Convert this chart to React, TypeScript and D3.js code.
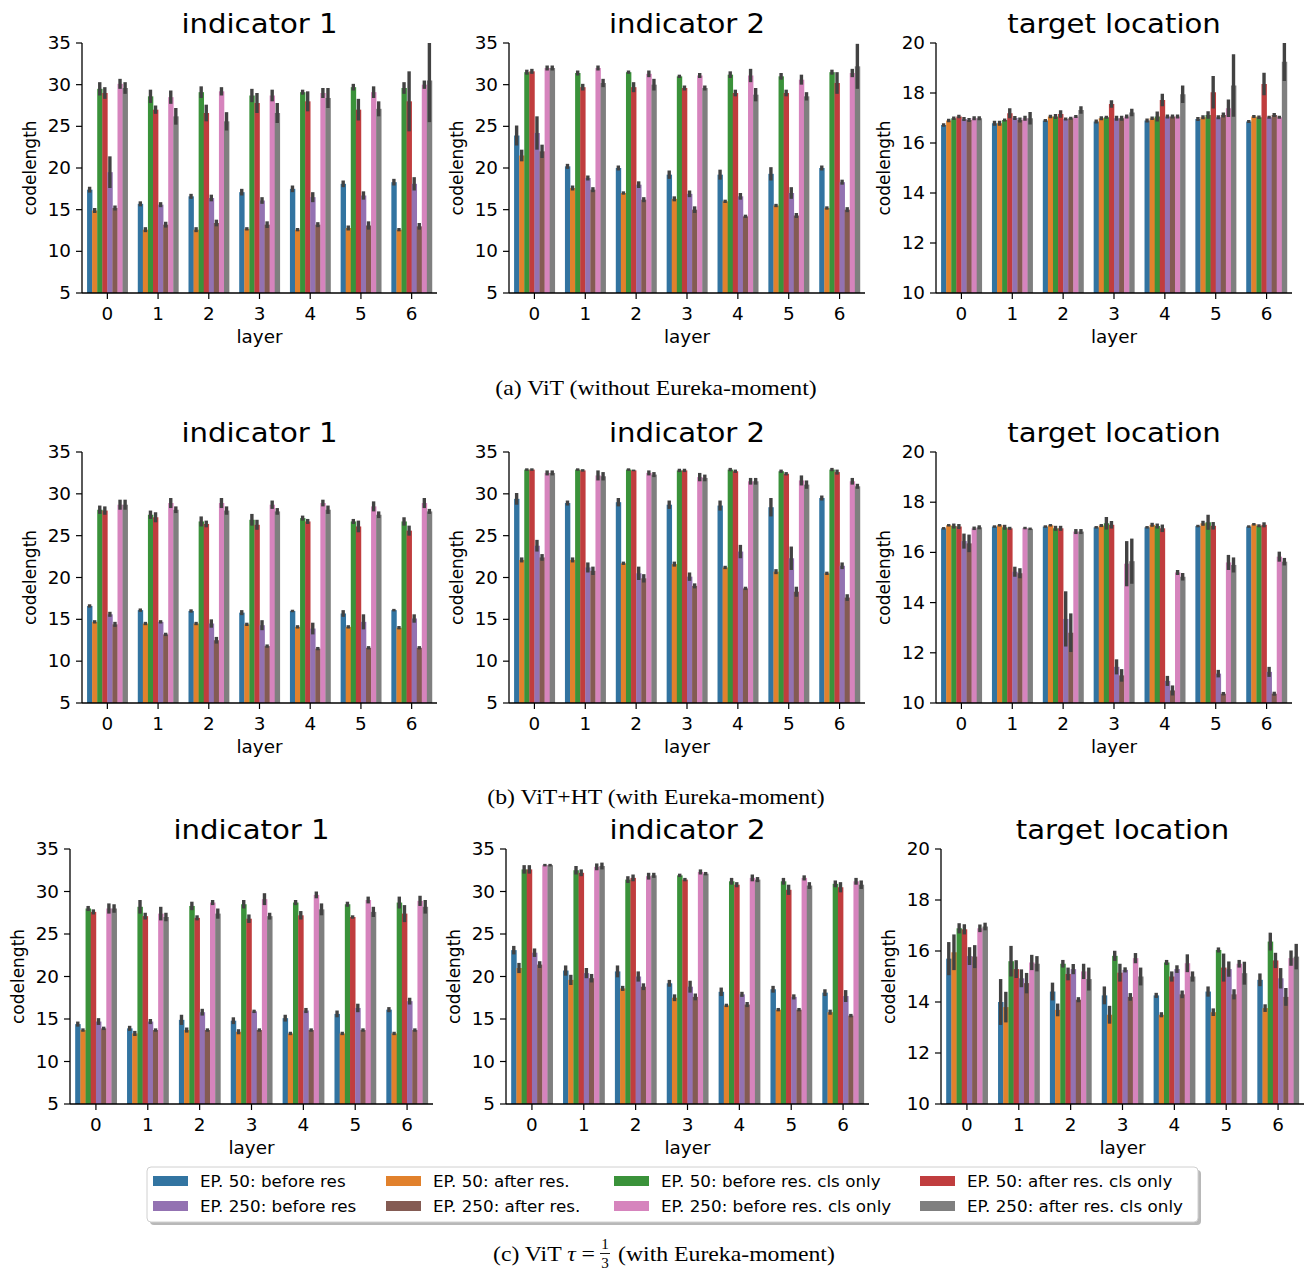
import * as d3 from 'd3'

const layers = ['0', '1', '2', '3', '4', '5', '6']
const seriesNames = [
  'EP. 50: before res',
  'EP. 50: after res.',
  'EP. 50: before res. cls only',
  'EP. 50: after res. cls only',
  'EP. 250: before res',
  'EP. 250: after res.',
  'EP. 250: before res. cls only',
  'EP. 250: after res. cls only',
]
const palette = ['#3274a1', '#e1812c', '#3a923a', '#c03d3e', '#9372b2', '#845b53', '#d684bd', '#7f7f7f']
const panelTitles = ['indicator 1', 'indicator 2', 'target location']
const captions = ['(a) ViT (without Eureka-moment)', '(b) ViT+HT (with Eureka-moment)']

// rows = layers, columns = series (same order as seriesNames)
// (a) ViT
const vitInd1Mean = [
  [17.4, 14.9, 29.5, 29.0, 19.5, 15.2, 30.1, 29.6],
  [15.7, 12.6, 28.6, 27.0, 15.6, 13.2, 28.5, 26.2],
  [16.6, 12.6, 29.1, 26.6, 16.4, 13.4, 29.2, 25.6],
  [17.1, 12.7, 28.7, 27.8, 16.1, 13.2, 28.7, 26.6],
  [17.5, 12.6, 29.1, 28.0, 16.5, 13.2, 29.0, 28.4],
  [18.1, 12.8, 29.7, 27.0, 16.7, 13.1, 29.1, 27.1],
  [18.3, 12.6, 29.6, 28.0, 18.1, 13.0, 30.0, 30.5],
]
const vitInd1Err = [
  [0.35, 0.3, 0.8, 0.7, 1.9, 0.3, 0.6, 0.7],
  [0.3, 0.3, 0.8, 0.5, 0.3, 0.35, 0.8, 1.0],
  [0.3, 0.3, 0.7, 1.0, 0.4, 0.4, 0.5, 1.1],
  [0.4, 0.2, 0.8, 1.2, 0.4, 0.4, 0.7, 1.2],
  [0.4, 0.2, 0.3, 1.2, 0.6, 0.3, 0.6, 1.2],
  [0.4, 0.3, 0.4, 1.3, 0.5, 0.5, 0.7, 0.9],
  [0.4, 0.2, 0.7, 3.6, 0.8, 0.4, 0.5, 5.0],
]
const vitInd2Mean = [
  [23.9, 21.5, 31.5, 31.6, 24.2, 22.0, 32.0, 32.0],
  [20.2, 17.6, 31.4, 29.7, 18.8, 17.4, 32.0, 30.2],
  [20.0, 17.0, 31.5, 29.7, 18.0, 16.2, 31.3, 30.0],
  [19.2, 16.3, 31.0, 29.6, 16.9, 15.0, 31.1, 29.6],
  [19.2, 16.0, 31.2, 29.0, 16.6, 14.2, 31.1, 28.8],
  [19.3, 15.5, 31.0, 29.0, 17.0, 14.3, 30.6, 28.6],
  [20.0, 15.2, 31.5, 30.2, 18.3, 15.0, 31.4, 32.2],
]
const vitInd2Err = [
  [1.2, 0.7, 0.3, 0.3, 2.0, 0.8, 0.3, 0.3],
  [0.3, 0.3, 0.3, 0.4, 0.3, 0.3, 0.3, 0.5],
  [0.3, 0.2, 0.2, 0.6, 0.4, 0.3, 0.4, 0.7],
  [0.5, 0.3, 0.2, 0.3, 0.4, 0.4, 0.3, 0.3],
  [0.6, 0.2, 0.4, 0.4, 0.4, 0.2, 0.8, 0.8],
  [0.8, 0.2, 0.4, 0.4, 0.7, 0.3, 0.6, 0.5],
  [0.3, 0.2, 0.3, 1.3, 0.3, 0.3, 0.5, 2.7],
]
const vitTargetMean = [
  [16.72, 16.9, 16.99, 17.06, 16.96, 16.92, 16.99, 16.99],
  [16.79, 16.79, 16.92, 17.19, 17.0, 16.92, 16.99, 16.99],
  [16.9, 17.06, 17.06, 17.16, 16.96, 16.99, 17.06, 17.32],
  [16.86, 16.99, 17.03, 17.56, 16.99, 16.99, 17.06, 17.22],
  [16.9, 16.99, 17.06, 17.72, 17.06, 17.06, 17.06, 17.95],
  [16.96, 17.03, 17.12, 18.03, 17.03, 17.12, 17.39, 18.3],
  [16.86, 17.06, 17.03, 18.36, 17.03, 17.12, 17.03, 19.25],
]
const vitTargetErr = [
  [0.07, 0.07, 0.07, 0.07, 0.08, 0.08, 0.08, 0.08],
  [0.1, 0.1, 0.06, 0.2, 0.08, 0.1, 0.1, 0.25],
  [0.06, 0.07, 0.1, 0.15, 0.06, 0.06, 0.06, 0.15],
  [0.08, 0.08, 0.06, 0.15, 0.1, 0.1, 0.08, 0.15],
  [0.08, 0.07, 0.2, 0.25, 0.08, 0.08, 0.08, 0.35],
  [0.08, 0.08, 0.15, 0.65, 0.08, 0.1, 0.35, 1.25],
  [0.06, 0.06, 0.07, 0.45, 0.06, 0.08, 0.06, 0.77],
]

// (b) ViT+HT
const htInd1Mean = [
  [16.6, 14.7, 28.1, 28.0, 15.6, 14.4, 28.7, 28.7],
  [16.1, 14.5, 27.5, 27.2, 14.7, 13.2, 28.9, 28.1],
  [16.0, 14.5, 26.7, 26.4, 14.5, 12.5, 28.9, 28.0],
  [15.8, 14.4, 26.9, 26.3, 14.3, 11.8, 28.7, 27.9],
  [16.0, 14.1, 27.1, 26.7, 13.9, 11.5, 28.9, 28.1],
  [15.7, 14.1, 26.7, 26.1, 14.7, 11.6, 28.5, 27.5],
  [16.1, 14.0, 26.7, 25.6, 15.1, 11.6, 28.9, 27.9],
]
const htInd1Err = [
  [0.2, 0.2, 0.5, 0.5, 0.3, 0.3, 0.6, 0.6],
  [0.2, 0.2, 0.5, 0.6, 0.2, 0.2, 0.6, 0.4],
  [0.2, 0.2, 0.6, 0.4, 0.5, 0.4, 0.6, 0.5],
  [0.3, 0.2, 0.7, 0.6, 0.6, 0.2, 0.5, 0.4],
  [0.15, 0.2, 0.3, 0.3, 0.7, 0.2, 0.4, 0.5],
  [0.4, 0.2, 0.3, 0.7, 0.9, 0.2, 0.6, 0.4],
  [0.15, 0.2, 0.5, 0.6, 0.5, 0.2, 0.6, 0.3],
]
const htInd2Mean = [
  [29.4, 22.1, 32.9, 32.9, 23.8, 22.4, 32.5, 32.5],
  [28.9, 22.1, 32.9, 32.8, 21.2, 20.8, 32.2, 32.1],
  [29.0, 21.7, 32.9, 32.8, 20.5, 19.9, 32.5, 32.3],
  [28.7, 21.6, 32.8, 32.8, 20.1, 19.0, 32.0, 31.9],
  [28.6, 21.2, 32.9, 32.7, 23.1, 18.7, 31.5, 31.5],
  [28.4, 20.7, 32.7, 32.4, 22.3, 18.3, 31.6, 31.1],
  [29.5, 20.5, 32.9, 32.6, 21.4, 17.6, 31.5, 30.9],
]
const htInd2Err = [
  [0.7, 0.3, 0.15, 0.15, 0.7, 0.4, 0.3, 0.3],
  [0.3, 0.3, 0.15, 0.15, 0.6, 0.5, 0.6, 0.5],
  [0.5, 0.2, 0.15, 0.1, 0.8, 0.5, 0.3, 0.3],
  [0.5, 0.3, 0.2, 0.2, 0.5, 0.3, 0.5, 0.4],
  [0.6, 0.2, 0.2, 0.2, 0.8, 0.2, 0.4, 0.4],
  [1.1, 0.3, 0.2, 0.2, 1.4, 0.6, 0.6, 0.5],
  [0.3, 0.2, 0.2, 0.3, 0.4, 0.4, 0.4, 0.3],
]
const htTargetMean = [
  [16.96, 17.08, 17.05, 17.03, 16.45, 16.36, 16.96, 17.0],
  [17.03, 17.08, 17.0, 16.96, 15.23, 15.17, 16.97, 16.94],
  [17.03, 17.08, 16.96, 16.96, 13.35, 12.8, 16.83, 16.83],
  [17.0, 17.07, 17.16, 17.1, 11.44, 11.1, 15.55, 15.65],
  [17.0, 17.1, 17.05, 16.96, 10.88, 10.5, 15.2, 15.03],
  [17.05, 17.16, 17.2, 17.06, 11.17, 10.37, 15.6, 15.5],
  [17.03, 17.12, 17.06, 17.1, 11.24, 10.37, 15.83, 15.63],
]
const htTargetErr = [
  [0.05, 0.05, 0.1, 0.1, 0.3, 0.35, 0.07, 0.08],
  [0.05, 0.05, 0.1, 0.06, 0.2, 0.2, 0.05, 0.05],
  [0.05, 0.05, 0.1, 0.1, 1.1, 0.77, 0.1, 0.1],
  [0.05, 0.06, 0.25, 0.15, 0.3, 0.25, 0.9, 0.9],
  [0.05, 0.08, 0.1, 0.15, 0.2, 0.2, 0.1, 0.15],
  [0.05, 0.1, 0.3, 0.15, 0.15, 0.07, 0.3, 0.3],
  [0.05, 0.05, 0.06, 0.1, 0.2, 0.08, 0.2, 0.15],
]

// (c) ViT tau = 1/3
const tauInd1Mean = [
  [14.4, 13.7, 28.0, 27.6, 14.7, 13.9, 28.0, 28.0],
  [13.9, 13.3, 28.2, 27.1, 14.7, 13.7, 27.4, 27.0],
  [14.9, 13.7, 28.3, 26.9, 15.8, 13.7, 28.7, 27.4],
  [14.8, 13.5, 28.5, 26.8, 15.9, 13.7, 29.1, 27.1],
  [15.1, 13.3, 28.7, 27.2, 16.0, 13.7, 29.6, 27.9],
  [15.6, 13.3, 28.5, 27.0, 16.3, 13.7, 29.0, 27.6],
  [16.1, 13.3, 28.7, 27.4, 17.1, 13.7, 28.9, 28.2],
]
const tauInd1Err = [
  [0.3, 0.2, 0.3, 0.3, 0.4, 0.2, 0.6, 0.5],
  [0.3, 0.3, 0.8, 0.4, 0.3, 0.2, 0.8, 0.5],
  [0.6, 0.3, 0.5, 0.3, 0.4, 0.2, 0.3, 0.6],
  [0.4, 0.3, 0.5, 0.5, 0.2, 0.2, 0.7, 0.4],
  [0.4, 0.2, 0.3, 0.5, 0.3, 0.2, 0.4, 0.7],
  [0.4, 0.2, 0.3, 0.2, 0.5, 0.2, 0.4, 0.6],
  [0.3, 0.2, 0.7, 1.0, 0.4, 0.2, 0.6, 0.8],
]
const tauInd2Mean = [
  [23.1, 21.0, 32.6, 32.6, 22.8, 21.4, 33.1, 33.1],
  [20.7, 19.6, 32.5, 32.2, 20.4, 19.8, 32.9, 33.0],
  [20.6, 18.6, 31.4, 31.6, 20.0, 18.8, 31.8, 31.9],
  [19.2, 17.5, 31.9, 31.4, 18.8, 17.6, 32.3, 32.1],
  [18.2, 16.6, 31.2, 30.8, 17.9, 16.7, 31.6, 31.4],
  [18.5, 16.1, 31.2, 30.2, 17.6, 16.1, 31.6, 30.7],
  [18.1, 15.8, 30.9, 30.5, 17.7, 15.4, 31.2, 30.8],
]
const tauInd2Err = [
  [0.5, 0.6, 0.5, 0.5, 0.5, 0.4, 0.15, 0.15],
  [0.6, 0.6, 0.5, 0.4, 0.6, 0.5, 0.4, 0.4],
  [0.7, 0.3, 0.4, 0.4, 0.6, 0.4, 0.4, 0.3],
  [0.4, 0.4, 0.2, 0.2, 0.7, 0.4, 0.3, 0.2],
  [0.5, 0.2, 0.4, 0.3, 0.3, 0.3, 0.4, 0.3],
  [0.4, 0.2, 0.4, 0.6, 0.3, 0.2, 0.3, 0.4],
  [0.4, 0.3, 0.4, 0.6, 0.7, 0.2, 0.4, 0.5],
]
const tauTargetMean = [
  [15.7, 15.95, 16.89, 16.85, 15.8, 15.78, 16.89, 16.96],
  [14.0, 13.8, 15.6, 15.29, 14.93, 14.74, 15.55, 15.5],
  [14.41, 13.69, 15.5, 15.1, 15.29, 14.09, 15.2, 14.9],
  [14.26, 13.5, 15.81, 15.15, 15.26, 14.2, 15.72, 15.0],
  [14.26, 13.5, 15.55, 15.0, 15.29, 14.3, 15.52, 15.0],
  [14.41, 13.6, 16.04, 15.35, 15.29, 14.3, 15.5, 15.13],
  [14.87, 13.76, 16.37, 15.63, 14.93, 14.2, 15.72, 15.78],
]
const tauTargetErr = [
  [0.65, 0.7, 0.2, 0.2, 0.35, 0.45, 0.15, 0.15],
  [0.9, 0.6, 0.6, 0.35, 0.35, 0.4, 0.3, 0.3],
  [0.35, 0.25, 0.15, 0.25, 0.2, 0.1, 0.3, 0.45],
  [0.35, 0.35, 0.2, 0.35, 0.1, 0.15, 0.2, 0.35],
  [0.1, 0.1, 0.1, 0.2, 0.15, 0.15, 0.35, 0.2],
  [0.2, 0.15, 0.1, 0.55, 0.3, 0.2, 0.15, 0.45],
  [0.25, 0.15, 0.35, 0.3, 0.4, 0.35, 0.3, 0.5],
]

const codeDomain = [5, 35]
const codeTicks = [5, 10, 15, 20, 25, 30, 35]
const targetDomain = [10, 20]
const targetTicks = [10, 12, 14, 16, 18, 20]

const SANS = "'DejaVu Sans', sans-serif"
const SERIF = "'Liberation Serif', 'Times New Roman', serif"
const SX = 1.08 // the source figure is slightly stretched horizontally

function T({ x, y, size, anchor = 'middle', family = SANS, rotate = 0, style, children }: any) {
  return (
    <text
      transform={`translate(${x},${y}) scale(${SX},1) rotate(${rotate})`}
      fontSize={size}
      fontFamily={family}
      textAnchor={anchor}
      fill="#000"
      style={style}
    >
      {children}
    </text>
  )
}

function Panel({ x0, x1, top, bottom, title, domain, ticks, means, errs }: any) {
  const x = d3.scaleBand().domain(layers).range([x0, x1])
  const bw = x.bandwidth()
  const hue = d3.scaleBand().domain(seriesNames).range([bw * 0.1, bw * 0.9])
  const y = d3.scaleLinear().domain(domain).range([bottom, top])
  const clamp = (v: number) => Math.max(domain[0], Math.min(domain[1], v))

  return (
    <g>
      {layers.map((l, li) => (
        <g key={l}>
          {seriesNames.map((s, si) => {
            const v = means[li][si]
            return (
              <rect
                key={s}
                x={(x(l) as number) + (hue(s) as number)}
                y={y(clamp(v))}
                width={hue.bandwidth() + 0.3}
                height={bottom - y(clamp(v))}
                fill={palette[si]}
              />
            )
          })}
          {seriesNames.map((s, si) => {
            const v = means[li][si]
            const e = errs[li][si]
            const cx = (x(l) as number) + (hue(s) as number) + hue.bandwidth() / 2
            return (
              <line
                key={s}
                x1={cx}
                x2={cx}
                y1={y(clamp(v - e))}
                y2={y(clamp(v + e))}
                stroke="#424242"
                strokeWidth={3.4}
              />
            )
          })}
        </g>
      ))}
      <line x1={x0} x2={x0} y1={top} y2={bottom} stroke="#000" strokeWidth={1.3} />
      <line x1={x0} x2={x1} y1={bottom} y2={bottom} stroke="#000" strokeWidth={1.3} />
      {ticks.map((t: number) => (
        <g key={t}>
          <line x1={x0 - 6} x2={x0} y1={y(t)} y2={y(t)} stroke="#000" strokeWidth={1.2} />
          <T x={x0 - 11} y={y(t) + 6} size={17} anchor="end">
            {t}
          </T>
        </g>
      ))}
      {layers.map((l) => {
        const cx = (x(l) as number) + bw / 2
        return (
          <g key={l}>
            <line x1={cx} x2={cx} y1={bottom} y2={bottom + 6} stroke="#000" strokeWidth={1.2} />
            <T x={cx} y={bottom + 27} size={17}>
              {l}
            </T>
          </g>
        )
      })}
      <T x={(x0 + x1) / 2} y={bottom + 50} size={17}>
        layer
      </T>
      <T x={x0 - 46} y={(top + bottom) / 2} size={17} rotate={-90}>
        codelength
      </T>
      <T x={(x0 + x1) / 2} y={top - 10.5} size={27}>
        {title}
      </T>
    </g>
  )
}

const rows = [
  {
    top: 43,
    bottom: 293,
    xs: [[82, 437], [509, 865], [936, 1292]],
    data: [[vitInd1Mean, vitInd1Err], [vitInd2Mean, vitInd2Err], [vitTargetMean, vitTargetErr]],
  },
  {
    top: 452,
    bottom: 703,
    xs: [[82, 437], [509, 865], [936, 1292]],
    data: [[htInd1Mean, htInd1Err], [htInd2Mean, htInd2Err], [htTargetMean, htTargetErr]],
  },
  {
    top: 849,
    bottom: 1104,
    xs: [[70, 433], [506, 869], [941, 1304]],
    data: [[tauInd1Mean, tauInd1Err], [tauInd2Mean, tauInd2Err], [tauTargetMean, tauTargetErr]],
  },
]

const legendCols = [153, 386, 614, 920]
const legendRows = [1181, 1206]

export default function App() {
  return (
    <svg width={1312} height={1274} style={{ position: 'absolute', left: 0, top: 0, display: 'block' }}>
      <rect width={1312} height={1274} fill="#fff" />
      {rows.map((row, ri) =>
        row.xs.map(([x0, x1], pi) => (
          <Panel
            key={`${ri}-${pi}`}
            x0={x0}
            x1={x1}
            top={row.top}
            bottom={row.bottom}
            title={panelTitles[pi]}
            domain={pi === 2 ? targetDomain : codeDomain}
            ticks={pi === 2 ? targetTicks : codeTicks}
            means={row.data[pi][0]}
            errs={row.data[pi][1]}
          />
        ))
      )}

      <T x={656} y={395} size={22} family={SERIF}>
        {captions[0]}
      </T>
      <T x={656} y={804} size={22} family={SERIF}>
        {captions[1]}
      </T>

      {/* caption (c) with a stacked fraction */}
      <T x={595} y={1261} size={22} family={SERIF} anchor="end">
        (c) ViT <tspan fontStyle="italic">τ</tspan> =
      </T>
      <T x={605} y={1249} size={14} family={SERIF}>
        1
      </T>
      <line x1={600} x2={610} y1={1253.5} y2={1253.5} stroke="#000" strokeWidth={0.9} />
      <T x={605} y={1268} size={14} family={SERIF}>
        3
      </T>
      <T x={618} y={1261} size={22} family={SERIF} anchor="start">
        (with Eureka-moment)
      </T>

      {/* legend */}
      <rect x={150} y={1170} width={1051} height={55} rx={4} fill="#b8b8b8" />
      <rect x={147} y={1167} width={1051} height={55} rx={4} fill="#fff" stroke="#d0d0d0" strokeWidth={1} />
      {seriesNames.map((s, i) => {
        const col = i % 4
        const row = Math.floor(i / 4)
        const lx = legendCols[col]
        const ly = legendRows[row]
        return (
          <g key={s}>
            <rect x={lx} y={ly - 5} width={35} height={10} fill={palette[i]} />
            <T x={lx + 47} y={ly + 5.5} size={15.5} anchor="start">
              {s}
            </T>
          </g>
        )
      })}
    </svg>
  )
}
